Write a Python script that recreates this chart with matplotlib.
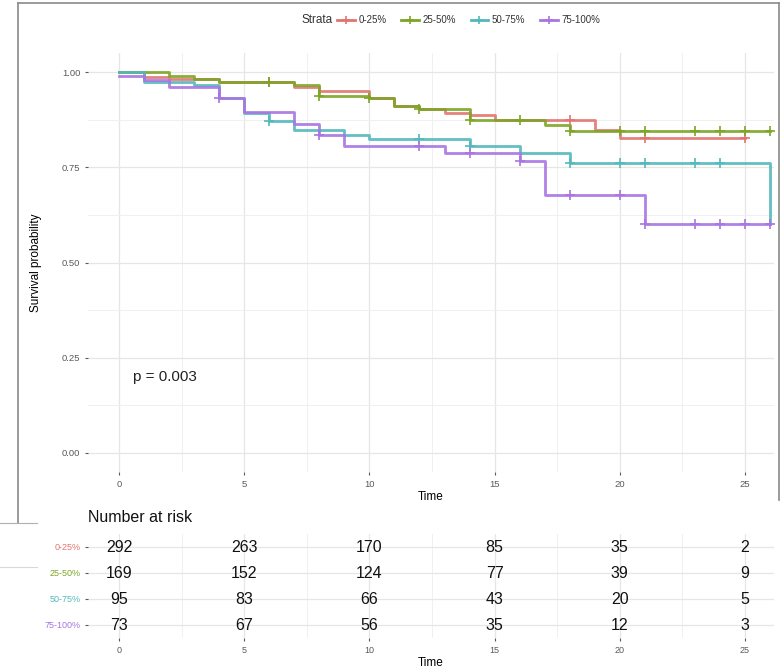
import matplotlib
matplotlib.use("Agg")
import matplotlib.pyplot as plt
import numpy as np
from matplotlib.lines import Line2D

plt.rcParams['font.family'] = ['Liberation Sans', 'DejaVu Sans']

# ---------------- data ----------------
strata = ["0-25%", "25-50%", "50-75%", "75-100%"]
colors = ["#E27470", "#7CA524", "#52B8BB", "#A874E2"]

t_0_25 = [0, 1, 2, 4, 7, 8, 10, 11, 12, 13, 14, 15, 19, 20]
s_0_25 = [1.0, 0.988, 0.982, 0.975, 0.962, 0.951, 0.932, 0.912, 0.903, 0.893, 0.886, 0.875, 0.848, 0.828]
end_0_25 = 25
c_0_25 = [6, 18, 21, 25]

t_25_50 = [0, 2, 3, 4, 7, 8, 10, 11, 12, 14, 17, 18]
s_25_50 = [1.0, 0.99, 0.982, 0.975, 0.965, 0.936, 0.932, 0.91, 0.904, 0.875, 0.86, 0.846]
end_25_50 = 26
c_25_50 = [6, 8, 10, 12, 14, 16, 18, 20, 21, 23, 24, 25, 26]

t_50_75 = [0, 1, 3, 4, 5, 6, 7, 9, 10, 14, 16, 18, 26]
s_50_75 = [1.0, 0.975, 0.967, 0.932, 0.893, 0.871, 0.847, 0.836, 0.823, 0.805, 0.788, 0.762, 0.602]
end_50_75 = 26
c_50_75 = [6, 12, 14, 18, 20, 21, 23, 24]

t_75_100 = [0, 1, 2, 4, 5, 7, 8, 9, 13, 16, 17, 21]
s_75_100 = [0.99, 0.98, 0.96, 0.932, 0.894, 0.864, 0.836, 0.805, 0.788, 0.766, 0.677, 0.602]
end_75_100 = 26
c_75_100 = [4, 8, 12, 14, 16, 18, 20, 21, 23, 24, 25, 26]

risk_times = [0, 5, 10, 15, 20, 25]
risk_0_25 = [292, 263, 170, 85, 35, 2]
risk_25_50 = [169, 152, 124, 77, 39, 9]
risk_50_75 = [95, 83, 66, 43, 20, 5]
risk_75_100 = [73, 67, 56, 35, 12, 3]

p_text = "p = 0.003"

curves = [
    (t_0_25, s_0_25, end_0_25, c_0_25),
    (t_25_50, s_25_50, end_25_50, c_25_50),
    (t_50_75, s_50_75, end_50_75, c_50_75),
    (t_75_100, s_75_100, end_75_100, c_75_100),
]
risks = [risk_0_25, risk_25_50, risk_50_75, risk_75_100]

# ---------------- figure ----------------
W, H = 782, 672
fig = plt.figure(figsize=(W / 100, H / 100), dpi=100)
fig.patch.set_facecolor("white")

def fx(px):
    return px / W

def fy(py):
    return 1 - py / H

x0_px, x25_px = 119, 745
ppu = (x25_px - x0_px) / 25.0
ax_l, ax_r = 88, 774
xlim = ((ax_l - x0_px) / ppu, (ax_r - x0_px) / ppu)

grid_major = "#e6e6e6"
grid_minor = "#f0f0f0"
tick_col = "#5a5a5a"

# main axes
ax_t, ax_b = 53, 472
ax = fig.add_axes([fx(ax_l), fy(ax_b), (ax_r - ax_l) / W, (ax_b - ax_t) / H])
ax.set_xlim(*xlim)
ax.set_ylim(-0.05, 1.05)
for sp in ax.spines.values():
    sp.set_visible(False)
ax.set_xticks([0, 5, 10, 15, 20, 25])
ax.set_xticks([2.5, 7.5, 12.5, 17.5, 22.5], minor=True)
ax.set_yticks([0, 0.25, 0.5, 0.75, 1.0])
ax.set_yticklabels(["0.00", "0.25", "0.50", "0.75", "1.00"])
ax.set_yticks([0.125, 0.375, 0.625, 0.875], minor=True)
ax.grid(True, which="major", color=grid_major, lw=0.9)
ax.grid(True, which="minor", color=grid_minor, lw=0.7)
ax.set_axisbelow(True)
ax.tick_params(which="major", length=2.5, width=0.8, color=tick_col,
               labelcolor=tick_col, labelsize=6.8, pad=3)
ax.tick_params(which="minor", length=0)
ax.set_xlabel("Time", fontsize=8.5, labelpad=2)
ax.set_ylabel("Survival probability", fontsize=8.5, labelpad=14)

for (t, s, end, cens), col in zip(curves, colors):
    tt = list(t) + [end]
    ss = list(s) + [s[-1]]
    ax.step(tt, ss, where="post", color=col, lw=2.0, alpha=0.9, zorder=3)
    ta = np.array(t)
    cy = [s[np.searchsorted(ta, c, side="right") - 1] for c in cens]
    ax.plot(cens, cy, ls="none", marker="+", ms=7, mew=1.2, color=col, zorder=4)

ax.text(0.56, 0.2, p_text, fontsize=11, ha="left", va="center", color="#222222")

# legend
handles = [Line2D([0], [0], color=c, lw=2, marker="+", ms=6, mew=1.2) for c in colors]
fig.legend(handles, strata, loc="center left", bbox_to_anchor=(fx(337), fy(20)), ncol=4,
           frameon=False, fontsize=7, handlelength=1.8, handletextpad=0.4,
           columnspacing=1.5, labelcolor="#333333", borderpad=0, borderaxespad=0)
fig.text(fx(333), fy(20), "Strata", fontsize=8.5, ha="right", va="center", color="#333333")

# risk table
rt_t, rt_b = 534, 638
rax = fig.add_axes([fx(ax_l), fy(rt_b), (ax_r - ax_l) / W, (rt_b - rt_t) / H])
rax.set_xlim(*xlim)
rax.set_ylim(4.5, 0.5)
for sp in rax.spines.values():
    sp.set_visible(False)
rax.set_xticks(risk_times)
rax.set_xticks([2.5, 7.5, 12.5, 17.5, 22.5], minor=True)
rax.set_yticks([1, 2, 3, 4])
rax.set_yticklabels(strata)
for lab, col in zip(rax.get_yticklabels(), colors):
    lab.set_color(col)
rax.grid(True, which="major", color=grid_major, lw=0.9)
rax.grid(True, which="minor", axis="x", color=grid_minor, lw=0.7)
rax.set_axisbelow(True)
rax.tick_params(which="major", length=2.5, width=0.8, color=tick_col, labelsize=6.5, pad=3)
rax.tick_params(axis="x", labelcolor=tick_col)
rax.tick_params(which="minor", length=0)
rax.set_xlabel("Time", fontsize=8.5, labelpad=2)
for i, row in enumerate(risks):
    for tx, n in zip(risk_times, row):
        rax.text(tx, i + 1, str(n), fontsize=11.5, ha="center", va="center", color="#111111")
fig.text(fx(88), fy(518), "Number at risk", fontsize=11.5, ha="left", va="center", color="#111111")

# screenshot frame lines
frame_col = "#8a8a8a"
fig.add_artist(Line2D([fx(18), fx(18)], [fy(3), fy(523)], color=frame_col, lw=1.2))
fig.add_artist(Line2D([fx(18), fx(779)], [fy(3), fy(3)], color=frame_col, lw=1.2))
fig.add_artist(Line2D([fx(779), fx(779)], [fy(3), fy(500)], color=frame_col, lw=1.2))
fig.add_artist(Line2D([fx(0), fx(37)], [fy(523), fy(523)], color="#b0b0b0", lw=0.8))
fig.add_artist(Line2D([fx(0), fx(37)], [fy(567), fy(567)], color="#d8d8d8", lw=0.8))

fig.savefig("out.png", dpi=100, facecolor="white")
